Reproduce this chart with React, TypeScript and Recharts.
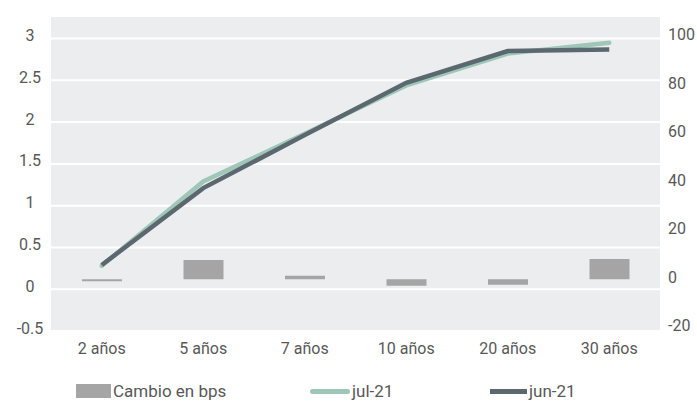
import React from 'react';
import {
  ComposedChart,
  Bar,
  Line,
  XAxis,
  YAxis,
  CartesianGrid,
  Legend,
} from 'recharts';

// Yield curve by tenor (left axis, %) and change in basis points (right axis)
const categories = ['2 años', '5 años', '7 años', '10 años', '20 años', '30 años'];
const cambioBps = [-0.8, 8, 1.5, -2.6, -2.2, 8.4];
const jul21 = [0.28, 1.29, 1.86, 2.44, 2.82, 2.95];
const jun21 = [0.29, 1.21, 1.845, 2.47, 2.85, 2.87];

const leftTicks = [-0.5, 0, 0.5, 1, 1.5, 2, 2.5, 3];
const rightTicks = [-20, 0, 20, 40, 60, 80, 100];

const data = categories.map((c, i) => ({
  tenor: c,
  cambio: cambioBps[i],
  jul: jul21[i],
  jun: jun21[i],
}));

const FONT = 'Roboto, "Noto Sans", sans-serif';
const TEXT = '#585858';
const BAR = '#a5a5a5';
const JUL = '#9fc7b7';
const JUN = '#5b6870';

const LeftTick = (props: any) => {
  const { y, payload } = props;
  return (
    <text
      x={30}
      y={y - 3}
      dy="0.35em"
      textAnchor="middle"
      fill={TEXT}
      fontSize={16}
      fontFamily={FONT}
    >
      {payload.value}
    </text>
  );
};

const RightTick = (props: any) => {
  const { y, payload } = props;
  return (
    <text
      x={668}
      y={y - 2}
      dy="0.35em"
      textAnchor="start"
      fill={TEXT}
      fontSize={16}
      fontFamily={FONT}
    >
      {payload.value}
    </text>
  );
};

const legendItems = [
  { label: 'Cambio en bps', kind: 'bar', color: BAR, left: 76, width: 35 },
  { label: 'jul-21', kind: 'line', color: JUL, left: 310, width: 40 },
  { label: 'jun-21', kind: 'line', color: JUN, left: 490, width: 37 },
];

const LegendContent = () => (
  <div style={{ position: 'relative', width: 697, height: 24 }}>
    {legendItems.map((it) => (
      <div
        key={it.label}
        style={{
          position: 'absolute',
          left: it.left,
          top: 0,
          height: 24,
          display: 'flex',
          alignItems: 'center',
          fontFamily: FONT,
          fontSize: 17,
          lineHeight: '18px',
          color: TEXT,
          whiteSpace: 'nowrap',
        }}
      >
        <span
          style={{
            display: 'inline-block',
            width: it.width,
            height: it.kind === 'bar' ? 14 : 5,
            background: it.color,
            borderRadius: it.kind === 'line' && it.color === JUL ? 3 : 0,
            marginRight: 2,
          }}
        />
        <span>{it.label}</span>
      </div>
    ))}
  </div>
);

export default function App() {
  return (
    <div style={{ position: 'absolute', left: 0, top: 0, width: 697, height: 402, background: '#fff' }}>
      <ComposedChart
        width={697}
        height={402}
        data={data}
        margin={{ top: 16, right: 0, bottom: 0, left: 0 }}
      >
        <CartesianGrid
          yAxisId="left"
          vertical={false}
          fill="#ecedef"
          stroke="#ffffff"
          strokeWidth={2}
        />
        <XAxis
          dataKey="tenor"
          height={47}
          axisLine={false}
          tickLine={false}
          tickSize={0}
          tickMargin={12}
          tick={{ fill: TEXT, fontSize: 16, fontFamily: FONT }}
          interval={0}
        />
        <YAxis
          yAxisId="left"
          orientation="left"
          width={51}
          domain={[-0.5, 3.27]}
          ticks={leftTicks}
          axisLine={false}
          tickLine={false}
          tick={<LeftTick />}
          allowDataOverflow
        />
        <YAxis
          yAxisId="right"
          orientation="right"
          width={37}
          domain={[-21.3, 108.6]}
          ticks={rightTicks}
          axisLine={false}
          tickLine={false}
          tick={<RightTick />}
          allowDataOverflow
        />
        <Legend
          verticalAlign="bottom"
          content={<LegendContent />}
          wrapperStyle={{ position: 'absolute', left: 0, bottom: -1, width: 697, height: 24 }}
        />
        <Bar
          yAxisId="right"
          dataKey="cambio"
          name="Cambio en bps"
          fill={BAR}
          barSize={40}
          isAnimationActive={false}
        />
        <Line
          yAxisId="left"
          dataKey="jul"
          name="jul-21"
          stroke={JUL}
          strokeWidth={4.5}
          strokeLinecap="round"
          dot={false}
          activeDot={false}
          type="linear"
          isAnimationActive={false}
        />
        <Line
          yAxisId="left"
          dataKey="jun"
          name="jun-21"
          stroke={JUN}
          strokeWidth={4.5}
          strokeLinecap="butt"
          dot={false}
          activeDot={false}
          type="linear"
          isAnimationActive={false}
        />
      </ComposedChart>
    </div>
  );
}
